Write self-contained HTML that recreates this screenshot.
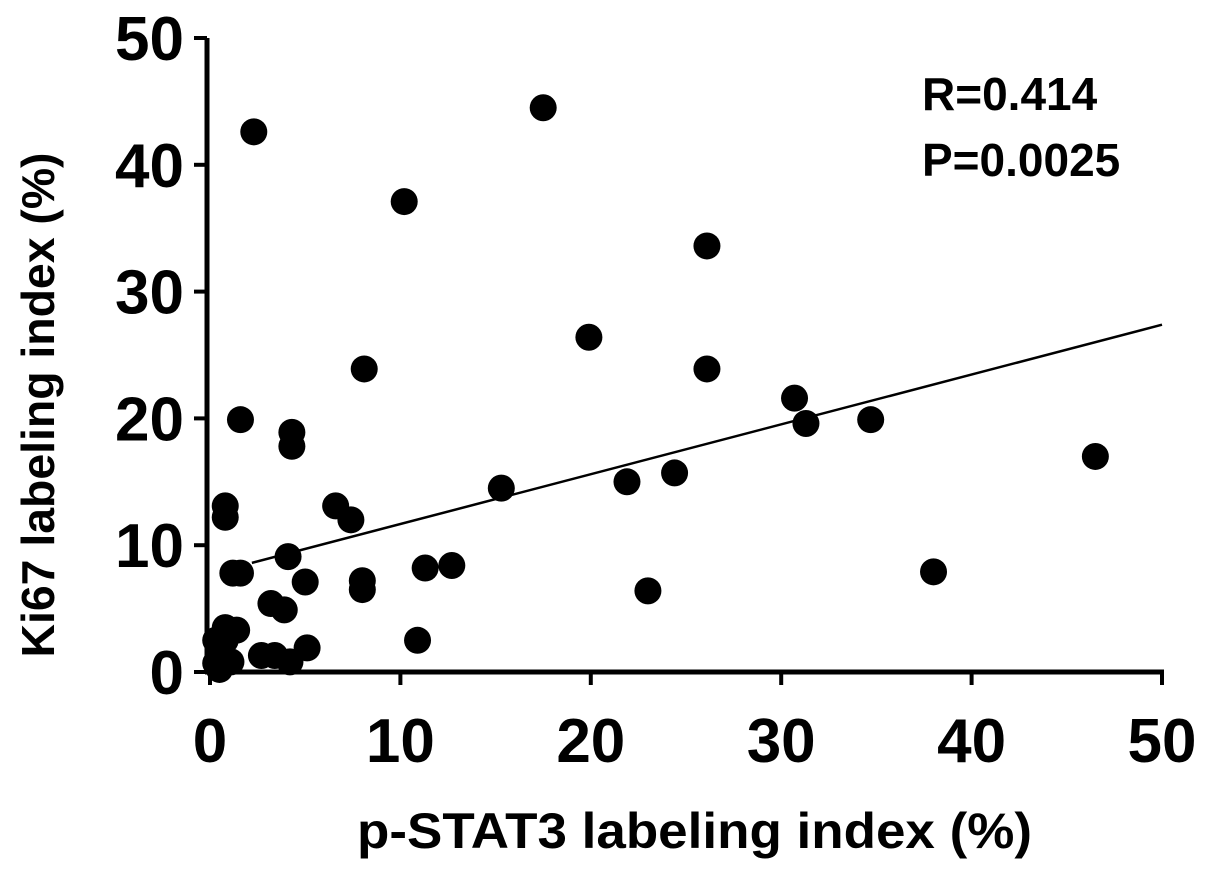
<!DOCTYPE html>
<html><head><meta charset="utf-8"><style>
html,body{margin:0;padding:0;background:#fff;}
svg{display:block;font-family:"Liberation Sans",Arial,sans-serif;font-weight:bold;}
</style></head><body>
<svg id="chart" width="1205" height="874" viewBox="0 0 1205 874">
<g id="axes"></g>
<g id="pts"></g>
<text transform="translate(54,405) rotate(-90)" text-anchor="middle" font-size="46" textLength="505" lengthAdjust="spacingAndGlyphs">Ki67 labeling index (%)</text>
<text x="357" y="848" font-size="50" textLength="675" lengthAdjust="spacingAndGlyphs">p-STAT3 labeling index (%)</text>
<text x="922" y="110" font-size="46">R=0.414</text>
<text x="922" y="176" font-size="46">P=0.0025</text>
</svg>
<script>
const xVals=[1.6,4.3,4.3,0.8,0.8,6.6,7.4,4.1,1.6,1.2,5.0,8.0,8.0,11.3,12.7,3.2,3.9,0.8,1.4,2.7,3.4,5.1,10.9,4.2,0.3,0.5,0.8,0.5,0.3,1.1,2.3,10.2,17.5,19.9,26.1,26.1,8.1,15.3,21.9,24.4,23.0,30.7,31.3,34.7,38.0,46.5];
const yVals=[19.9,18.9,17.8,13.1,12.2,13.1,12.0,9.1,7.8,7.8,7.1,7.2,6.5,8.2,8.4,5.4,4.9,3.5,3.3,1.3,1.3,1.9,2.5,0.8,0.7,0.2,2.5,1.9,2.5,0.8,42.6,37.1,44.5,26.4,33.6,23.9,23.9,14.5,15.0,15.7,6.4,21.6,19.6,19.9,7.9,17.0];
const xTicks=[0,10,20,30,40,50];
const yTicks=[0,10,20,30,40,50];
const fitSlope=0.393, fitIntercept=7.74, fitStart=2.2, fitEnd=50;
const X=v=>210+v*19.04, Y=v=>672-v*12.68;
const NS="http://www.w3.org/2000/svg";
const ax=document.getElementById('axes'), pg=document.getElementById('pts');
function mk(tag,attrs,parent){const e=document.createElementNS(NS,tag);for(const k in attrs)e.setAttribute(k,attrs[k]);parent.appendChild(e);return e;}
let l=mk('line',{x1:207,y1:Y(50),x2:207,y2:674,stroke:'#000','stroke-width':5},ax);


l=mk('line',{x1:205,y1:672,x2:X(50)+2,y2:672,stroke:'#000','stroke-width':5},ax);


yTicks.forEach(t=>{
 const tk=mk('line',{x1:194,y1:Y(t),x2:207,y2:Y(t),stroke:'#000','stroke-width':4},ax);
 
 
 const tx=mk('text',{x:184,y:Y(t)+22,'text-anchor':'end','font-size':62},ax);
 tx.textContent=t;
 
 
});
xTicks.forEach(t=>{
 const tk=mk('line',{x1:X(t),y1:672,x2:X(t),y2:685,stroke:'#000','stroke-width':4},ax);
 
 
 const tx=mk('text',{x:X(t),y:762,'text-anchor':'middle','font-size':62},ax);
 tx.textContent=t;
 
 
});
const fl=mk('line',{x1:X(fitStart),y1:Y(fitIntercept+fitSlope*fitStart),x2:X(fitEnd),y2:Y(fitIntercept+fitSlope*fitEnd),stroke:'#000','stroke-width':2.5},pg);


xVals.forEach((v,i)=>{
 const c=mk('circle',{cx:X(v),cy:Y(yVals[i]),r:13.5,fill:'#000'},pg);
 
 
});
</script>
</body></html>
